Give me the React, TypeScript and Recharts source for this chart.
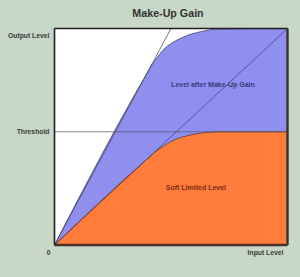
import React from 'react';
import { ComposedChart, Area, XAxis, YAxis, ReferenceLine, ReferenceDot, CartesianGrid } from 'recharts';

// Input level (normalized 0..1)
const inputLevels = [0, 0.39, 0.42, 0.45, 0.475, 0.5, 0.525, 0.55, 0.575, 0.6, 0.65, 0.7, 1.0];
// Level after make-up gain
const makeUpLevels = [0, 0.78, 0.835, 0.88, 0.91, 0.93, 0.946, 0.959, 0.97, 0.978, 0.99, 0.998, 1.0];
// Soft limited level
const softLimitedLevels = [0, 0.39, 0.418, 0.444, 0.462, 0.477, 0.49, 0.499, 0.506, 0.512, 0.519, 0.523, 0.523];

const threshold = 0.523;
const yTickValues = [0.523, 0.968];
const yTickLabels = ['Threshold', 'Output Level'];
const xTickValues = [0, 1];
const xTickLabels = ['0', 'Input Level'];

const data = inputLevels.map((x, i) => ({ x, makeup: makeUpLevels[i], soft: softLimitedLevels[i] }));

const FONT = '"Liberation Sans", Arial, sans-serif';
const BG = '#c7d8c7';

const XTick = (props: any) => {
  const { x, y, payload } = props;
  const idx = xTickValues.indexOf(payload.value);
  return (
    <text x={x - 4} y={y + 8} textAnchor="end" fontFamily={FONT} fontSize={6.8} fontWeight="bold" fill="#3a3a3a">
      {xTickLabels[idx]}
    </text>
  );
};

const YTick = (props: any) => {
  const { x, y, payload } = props;
  const idx = yTickValues.indexOf(payload.value);
  return (
    <text x={x} y={y} dy="0.35em" textAnchor="end" fontFamily={FONT} fontSize={6.8} fontWeight="bold" fill="#3a3a3a">
      {yTickLabels[idx]}
    </text>
  );
};

export default function App() {
  return (
    <div style={{ position: 'absolute', left: 0, top: 0, width: 300, height: 277, background: BG, fontFamily: FONT }}>
      <div style={{ position: 'absolute', left: 118, width: 100, top: 6, textAlign: 'center', fontSize: 10.7, fontWeight: 'bold', color: '#333', lineHeight: '14px' }}>
        Make-Up Gain
      </div>
      <ComposedChart width={300} height={277} data={data} margin={{ top: 28.5, right: 12.5, bottom: 16, left: 0 }}>
        <CartesianGrid horizontal={false} vertical={false} fill="#ffffff" />
        <XAxis
          type="number"
          dataKey="x"
          domain={[0, 1]}
          ticks={xTickValues}
          axisLine={false}
          tickLine={false}
          tickSize={0}
          height={16}
          tick={<XTick />}
          interval={0}
        />
        <YAxis
          type="number"
          domain={[0, 1]}
          ticks={yTickValues}
          width={54.5}
          axisLine={false}
          tickLine={false}
          tickSize={0}
          tickMargin={5}
          interval={0}
          tick={<YTick />}
        />
        <Area
          type="monotone"
          dataKey="makeup"
          fill="#8f8ff0"
          fillOpacity={1}
          stroke="#3d3d70"
          strokeWidth={0.8}
          isAnimationActive={false}
        />
        <ReferenceLine segment={[{ x: 0, y: 0 }, { x: 0.5, y: 1 }]} stroke="#444" strokeWidth={0.7} />
        <ReferenceLine segment={[{ x: 0, y: 0 }, { x: 1, y: 1 }]} stroke="#3d3d70" strokeWidth={0.7} />
        <ReferenceLine y={threshold} stroke="#555" strokeWidth={0.7} />
        <Area
          type="monotone"
          dataKey="soft"
          fill="#ff7c3a"
          fillOpacity={1}
          stroke="#6a3a30"
          strokeWidth={0.8}
          isAnimationActive={false}
        />
        <ReferenceDot
          x={0.68}
          y={0.74}
          r={0}
          stroke="none"
          label={{ value: 'Level after Make-Up Gain', position: 'center', fill: '#3b3b78', fontSize: 7, fontWeight: 'bold', fontFamily: FONT }}
        />
        <ReferenceDot
          x={0.607}
          y={0.267}
          r={0}
          stroke="none"
          label={{ value: 'Soft Limited Level', position: 'center', fill: '#7a2e12', fontSize: 7, fontWeight: 'bold', fontFamily: FONT }}
        />
        <ReferenceLine x={0} stroke="#1e1e1e" strokeWidth={1.6} />
        <ReferenceLine y={1} stroke="#1e1e1e" strokeWidth={1.6} />
        <ReferenceLine x={1} stroke="#3a3030" strokeWidth={2.4} />
        <ReferenceLine y={0} stroke="#4a3028" strokeWidth={2.4} />
      </ComposedChart>
    </div>
  );
}
